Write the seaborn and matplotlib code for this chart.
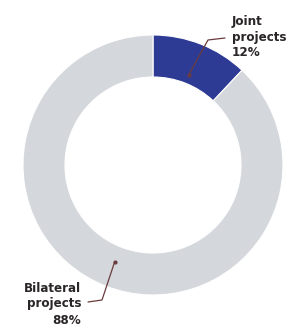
import numpy as np
import matplotlib.pyplot as plt
import seaborn as sns

labels = ["Joint\nprojects\n12%", "Bilateral\nprojects\n88%"]
shares = [12, 88]
colors = ["#2e3b95", "#d4d8dc"]

sns.set_theme(style="white")
plt.rcParams['font.family'] = ['DejaVu Sans']

fig = plt.figure(figsize=(2.88, 3.31), dpi=100)
ax = fig.add_axes([0, 0, 1, 1])

cx, cy, R = 153, 166, 130
wedges, _ = ax.pie(shares, colors=colors, startangle=90, counterclock=False,
                   center=(cx, cy), radius=R, frame=True,
                   wedgeprops=dict(width=42, edgecolor="white", linewidth=0.8))
ax.set_xlim(0, 288)
ax.set_ylim(0, 331)
ax.axis("off")

# leader lines + labels
line_col = "#6b3b3d"
# (start radius, elbow, line end, text pos, align)
specs = [
    (97, (208, 291), (225, 293), (232, 294), "left"),
    (104, (102, 31), (88, 29), (81, 27), "right"),
]
for w, (r, elbow, end, tpos, ha), lab in zip(wedges, specs, labels):
    ang = np.deg2rad((w.theta1 + w.theta2) / 2)
    sx, sy = cx + r * np.cos(ang), cy + r * np.sin(ang)
    ax.plot([sx, elbow[0], end[0]], [sy, elbow[1], end[1]], color=line_col, lw=0.9)
    ax.plot(sx, sy, "o", color=line_col, ms=2)
    ax.text(tpos[0], tpos[1], lab, ha=ha, va="center", fontsize=9.5,
            fontweight="bold", fontstretch="condensed", color="#2a2627",
            linespacing=1.3, multialignment=ha)

fig.savefig("out.png", dpi=100)
